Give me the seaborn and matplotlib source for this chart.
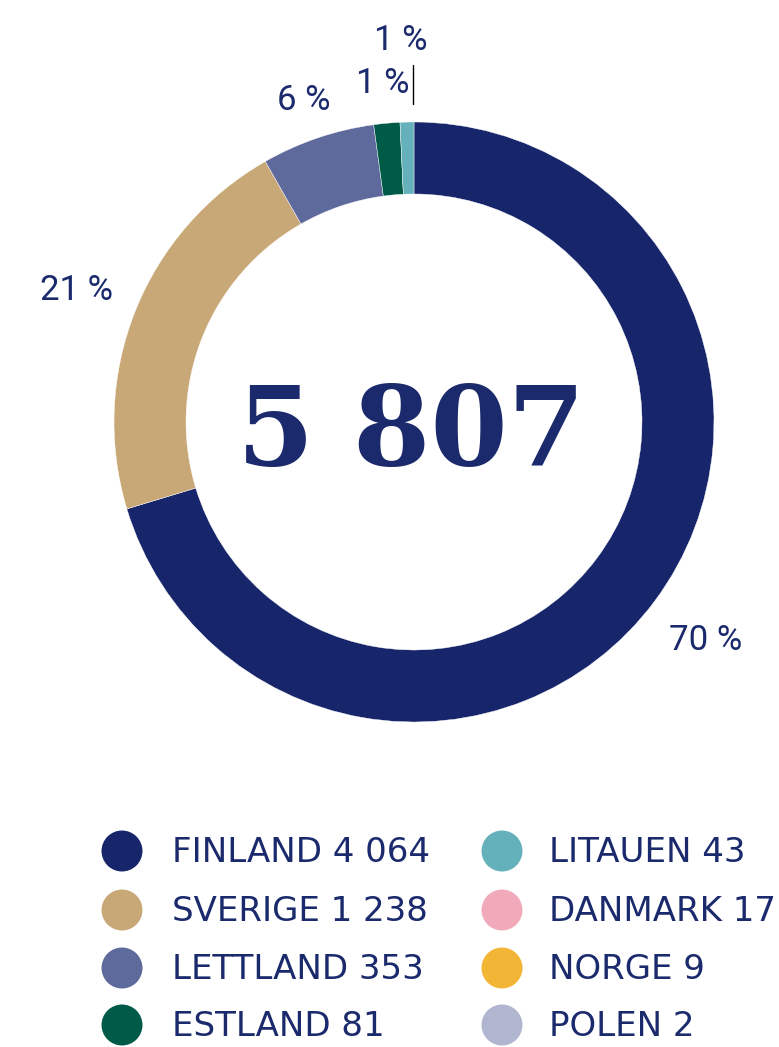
import matplotlib
matplotlib.use("Agg")
import matplotlib.pyplot as plt
import seaborn as sns
import pandas as pd
import numpy as np

# ---- data ----
countries = ["FINLAND", "SVERIGE", "LETTLAND", "ESTLAND", "LITAUEN", "DANMARK", "NORGE", "POLEN"]
values = [4064, 1238, 353, 81, 43, 17, 9, 2]
value_labels = ["4 064", "1 238", "353", "81", "43", "17", "9", "2"]
colors = ["#17256a", "#c9a877", "#5f6a9c", "#005a48", "#64b1bc", "#f1aab9", "#f2b535", "#b0b5d0"]
ring_count = 5          # slices visible in the ring
total_label = "5 807"

TXT = "#1a2a6c"
W, H = 779, 1047

sns.set_theme(style="white")
plt.rcParams["font.family"] = ["Roboto", "DejaVu Sans"]

fig = plt.figure(figsize=(W / 100, H / 100), dpi=100)
ax = fig.add_axes([0, 0, 1, 1])

total = sum(values)
ring_vals = values[:ring_count]
cx, cy, R = 414, H - 422, 300
wedges, _ = ax.pie(ring_vals, colors=colors[:ring_count], startangle=90, counterclock=False,
                   radius=R, center=(cx, cy),
                   wedgeprops=dict(width=72, edgecolor="white", linewidth=0.3))

ax.set_xlim(0, W)
ax.set_ylim(0, H)
ax.set_aspect("equal")
ax.axis("off")

# percentage labels
factors = [1.21, 1.21, 1.14, 1.14, 1.28]
shifts = [0, 0, 0, 0, 0.6]
for i, w in enumerate(wedges):
    pct = int(round(values[i] / total * 100))
    mid = np.deg2rad((w.theta1 + w.theta2) / 2 + shifts[i])
    x = cx + R * factors[i] * np.cos(mid)
    y = cy + R * factors[i] * np.sin(mid)
    ax.text(x, y - 12, f"{pct} %", ha="center", va="baseline", fontsize=25,
            color=TXT, family=["Roboto", "DejaVu Sans"])

# leader line for the smallest slice
lw = wedges[4]
edge = np.deg2rad(min(lw.theta1, lw.theta2) + 0.25)
ax.plot([cx + R * 1.06 * np.cos(edge)] * 2,
        [cy + R * 1.06 * np.sin(edge), cy + R * 1.19 * np.sin(edge)],
        color="black", lw=1.0)

# centre total
ax.text(cx - 3, H - 465, total_label, ha="center", va="baseline", fontsize=80,
        fontweight="bold", color=TXT, family=["DejaVu Serif"])

# legend
rows_y = [H - 851, H - 910, H - 968, H - 1025]
col_dot_x = [122, 502]
col_txt_x = [172, 549]
leg = pd.DataFrame({
    "country": countries,
    "x": [col_dot_x[i // 4] for i in range(len(countries))],
    "y": [rows_y[i % 4] for i in range(len(countries))],
})
sns.scatterplot(data=leg, x="x", y="y", hue="country", palette=dict(zip(countries, colors)),
                s=870, edgecolor="none", legend=False, ax=ax)
for i, (c, v) in enumerate(zip(countries, value_labels)):
    ax.text(col_txt_x[i // 4], rows_y[i % 4] - 11, f"{c} {v}", ha="left", va="baseline",
            fontsize=24.5, color=TXT, family=["DejaVu Sans"])

ax.set_xlim(0, W)
ax.set_ylim(0, H)
ax.axis("off")
fig.savefig("out.png", dpi=100)
